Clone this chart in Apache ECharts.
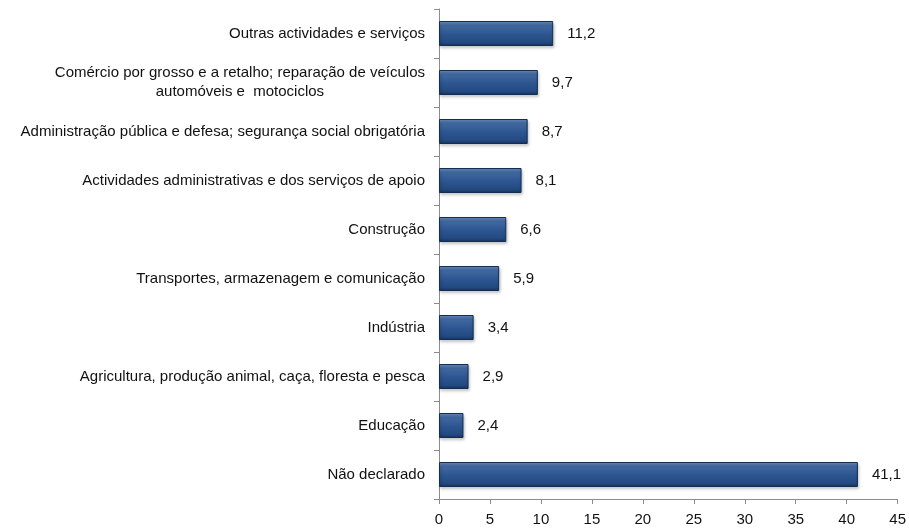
<!DOCTYPE html>
<html>
<head>
<meta charset="utf-8">
<script src="https://cdn.jsdelivr.net/npm/echarts@6/dist/echarts.min.js"></script>
<style>
  html, body { margin: 0; padding: 0; background: #fff; }
  #chart { width: 909px; height: 529px; }
</style>
</head>
<body>
<div id="chart"></div>
<script>
// categories, top to bottom
var categories = [
  'Outras actividades e serviços',
  'Comércio por grosso e a retalho; reparação de veículos\nautomóveis e  motociclos',
  'Administração pública e defesa; segurança social obrigatória',
  'Actividades administrativas e dos serviços de apoio',
  'Construção',
  'Transportes, armazenagem e comunicação',
  'Indústria',
  'Agricultura, produção animal, caça, floresta e pesca',
  'Educação',
  'Não declarado'
]
var values = [11.2, 9.7, 8.7, 8.1, 6.6, 5.9, 3.4, 2.9, 2.4, 41.1]
var xTicks = [0, 5, 10, 15, 20, 25, 30, 35, 40, 45]

var chart = echarts.init(document.getElementById('chart'))

chart.setOption({
  animation: false,
  textStyle: { fontFamily: '"Liberation Sans", Arial, sans-serif' },
  grid: {
    top: 9,
    left: 439,
    right: 10,
    bottom: 30,
    containLabel: false
  },
  xAxis: {
    type: 'value',
    min: xTicks[0],
    max: xTicks[xTicks.length - 1],
    interval: 5,
    splitLine: { show: false },
    axisLine: { show: true, lineStyle: { color: '#8c8c8c', width: 1 } },
    axisTick: { show: true, length: 5, lineStyle: { color: '#8c8c8c' } },
    axisLabel: { color: '#111', fontSize: 15, margin: 13 }
  },
  yAxis: {
    type: 'category',
    inverse: true,
    data: categories,
    axisLine: { show: true, lineStyle: { color: '#8c8c8c', width: 1 } },
    axisTick: { show: true, length: 5, lineStyle: { color: '#8c8c8c' } },
    axisLabel: {
      color: '#111',
      fontSize: 15,
      margin: 14,
      lineHeight: 19,
      formatter: function (v) {
        return v.split('\n').map(function (s) { return '{c|' + s + '}' }).join('\n')
      },
      rich: {
        c: { align: 'center', fontSize: 15, color: '#111', lineHeight: 19 }
      }
    }
  },
  series: [
    {
      type: 'bar',
      data: values,
      barWidth: '51%',
      itemStyle: {
        color: {
          type: 'linear', x: 0, y: 0, x2: 0, y2: 1,
          colorStops: [
            { offset: 0, color: '#6d93c8' },
            { offset: 0.18, color: '#41699f' },
            { offset: 0.55, color: '#2c5590' },
            { offset: 0.85, color: '#234a80' },
            { offset: 1, color: '#16335e' }
          ]
        },
        borderColor: '#142d52',
        borderWidth: 1,
        shadowColor: 'rgba(0,0,0,0.3)',
        shadowBlur: 3,
        shadowOffsetX: 1,
        shadowOffsetY: 2
      },
      label: {
        show: true,
        position: 'right',
        distance: 14,
        color: '#111',
        fontSize: 15,
        formatter: function (p) {
          return p.value.toFixed(1).replace('.', ',')
        }
      }
    }
  ]
})
</script>
</body>
</html>
